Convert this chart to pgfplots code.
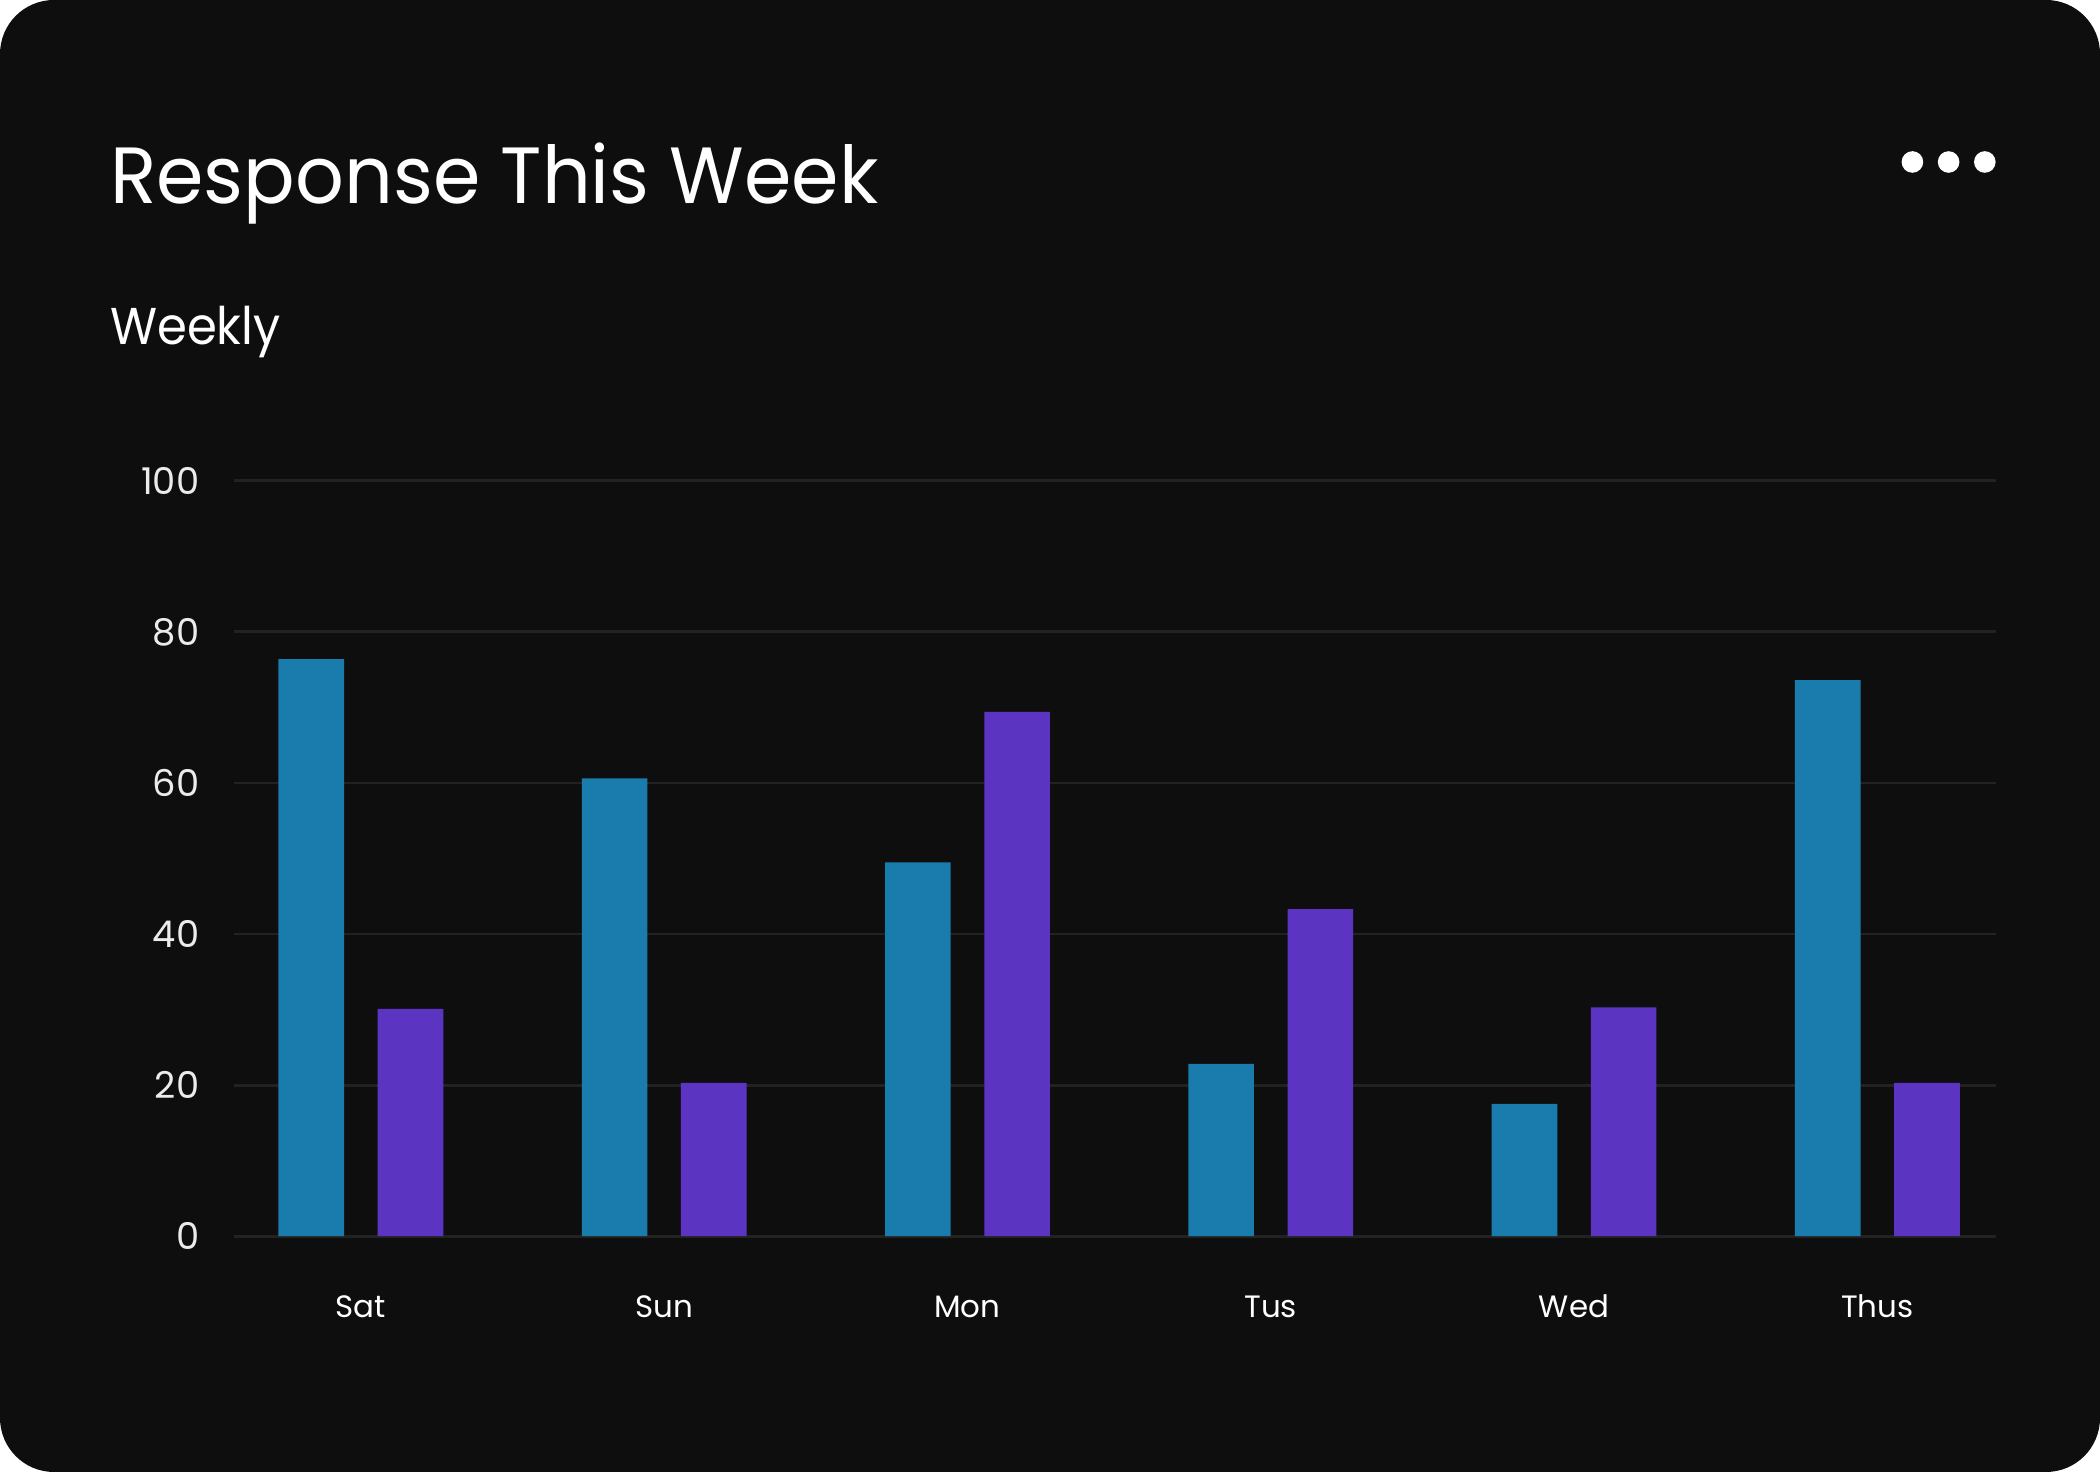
\documentclass[border=0pt]{standalone}
\usepackage{pgfplots}
\pgfplotsset{compat=1.18}
\usepackage{fontspec}
\setmainfont{Poppins}
\definecolor{bg}{HTML}{0E0E0E}
\definecolor{gridc}{HTML}{222222}
\definecolor{cblue}{HTML}{1A7BAD}
\definecolor{cpurple}{HTML}{5B35C2}
\begin{document}
\begin{tikzpicture}[x=1bp,y=1bp]
\fill[white] (0,0) rectangle (1050,736);
\fill[bg, rounded corners=27bp] (0,0) rectangle (1050,736);
\node[anchor=base west, inner sep=0, text=white, font=\fontsize{40}{48}\selectfont] at (54.9,634.2) {\scalebox{0.958}[1]{Response This Week}};
\node[anchor=base west, inner sep=0, text=white, font=\fontsize{26}{31}\selectfont] at (54.9,563.9) {\scalebox{0.93}[1]{Weekly}};
\foreach \x in {956.2,974.3,992.4} \fill[white] (\x,655) circle (5.4);
\begin{axis}[
  at={(117.2bp,117.9bp)}, anchor=south west,
  width=880.6bp, height=377.7bp, scale only axis,
  xmin=-0.417, xmax=5.39, ymin=0, ymax=100,
  separate axis lines, axis line style={draw=none},
  ytick={0,20,...,100}, ymajorgrids, grid style={gridc, line width=1.4bp},
  xtick={0,...,5}, xticklabels={Sat,Sun,Mon,Tus,Wed,Thus},
  major tick length=0pt, tick style={draw=none},
  ybar=16.8bp, bar width=32.8bp,
  /pgf/number format/assume math mode=true,
  yticklabel style={anchor=east, inner sep=0pt, xshift=-17.4bp, text=white!92!black, font=\fontsize{18.5}{22}\selectfont},
  xticklabel style={anchor=base, inner sep=0pt, yshift=-40.9bp, text=white, font=\fontsize{15.5}{19}\selectfont},
]
\addplot[fill=cblue, draw=none] coordinates {(0,76.4) (1,60.6) (2,49.5) (3,22.8) (4,17.5) (5,73.6)};
\addplot[fill=cpurple, draw=none] coordinates {(0,30.1) (1,20.3) (2,69.4) (3,43.3) (4,30.3) (5,20.3)};
\end{axis}
\end{tikzpicture}
\end{document}
